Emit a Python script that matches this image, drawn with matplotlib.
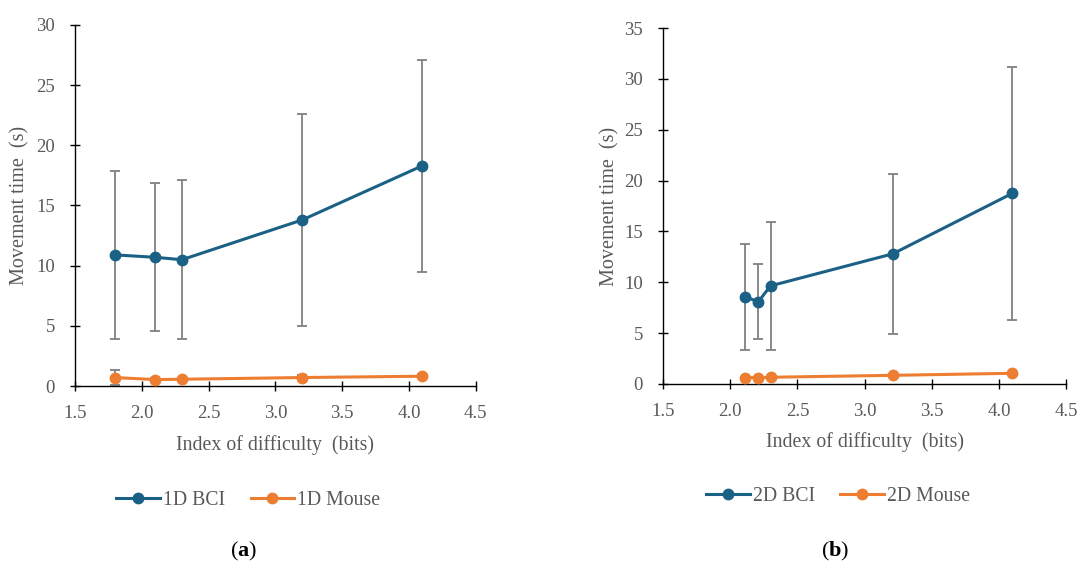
import numpy as np
import matplotlib.pyplot as plt

# ---- data (a) 1D ----
id_1d = [1.8, 2.1, 2.3, 3.2, 4.1]
bci_1d = [10.9, 10.7, 10.5, 13.8, 18.3]
bci_1d_hi = [17.9, 16.9, 17.1, 22.6, 27.05]
bci_1d_lo = [3.95, 4.6, 3.9, 5.0, 9.45]
mouse_1d = [0.72, 0.55, 0.58, 0.72, 0.83]
mouse_1d_hi = [1.33, 0.7, 0.72, 0.9, 1.0]
mouse_1d_lo = [0.1, 0.4, 0.45, 0.55, 0.66]

# ---- data (b) 2D ----
id_2d = [2.11, 2.21, 2.3, 3.21, 4.1]
bci_2d = [8.56, 8.1, 9.65, 12.8, 18.75]
bci_2d_hi = [13.75, 11.8, 15.9, 20.65, 31.15]
bci_2d_lo = [3.35, 4.45, 3.35, 4.95, 6.3]
mouse_2d = [0.62, 0.62, 0.66, 0.85, 1.05]

blue = '#1B6185'
orange = '#ED7D31'
grey_txt = '#595959'
plt.rcParams['font.family'] = ['Liberation Serif', 'DejaVu Serif']
plt.rcParams['mathtext.fontset'] = 'custom'
plt.rcParams['mathtext.rm'] = 'Liberation Serif'
plt.rcParams['mathtext.bf'] = 'Liberation Serif:bold'

fig = plt.figure(figsize=(10.79, 5.63), dpi=100)
ax1 = fig.add_axes([0.0695, 0.314, 0.3715, 0.642])
ax2 = fig.add_axes([0.6145, 0.318, 0.3735, 0.632])


def style(ax, ymax, ystep, ylab_x, xlab_y):
    ax.set_xlim(1.5, 4.5)
    ax.set_ylim(0, ymax)
    ax.set_xticks(np.arange(1.5, 4.51, 0.5))
    ax.set_xticklabels([f'{v:.1f}' for v in np.arange(1.5, 4.51, 0.5)])
    ax.set_yticks(np.arange(0, ymax + 0.1, ystep))
    for s in ['top', 'right']:
        ax.spines[s].set_visible(False)
    for s in ['left', 'bottom']:
        ax.spines[s].set_color('black')
        ax.spines[s].set_linewidth(1.0)
    ax.tick_params(direction='inout', length=7, width=1.0, colors='black',
                   labelcolor=grey_txt, labelsize=13.5)
    ax.tick_params(axis='x', pad=10)
    ax.tick_params(axis='y', pad=11)
    ax.set_xlabel('Index of difficulty  (bits)', color=grey_txt, fontsize=14.3)
    ax.set_ylabel('Movement time  (s)', color=grey_txt, fontsize=14.5)
    ax.xaxis.set_label_coords(0.5, xlab_y)
    ax.xaxis.label.set_va('center')
    ax.yaxis.set_label_coords(ylab_x, 0.5)
    ax.yaxis.label.set_va('center')


leg_kw = dict(loc='center', ncol=2, frameon=False, fontsize=14.2, labelcolor=grey_txt,
              handlelength=2.2, handletextpad=0.15, columnspacing=1.3)

# (a)
e = np.array([np.subtract(bci_1d, bci_1d_lo), np.subtract(bci_1d_hi, bci_1d)])
ax1.errorbar(id_1d, bci_1d, yerr=e, fmt='none', ecolor='#808080', elinewidth=1.3,
             capsize=3.3, capthick=1.3, zorder=2)
em = np.array([np.subtract(mouse_1d, mouse_1d_lo), np.subtract(mouse_1d_hi, mouse_1d)])
ax1.errorbar(id_1d, mouse_1d, yerr=em, fmt='none', ecolor='#808080', elinewidth=1.3,
             capsize=3.3, capthick=1.3, zorder=2)
ax1.plot(id_1d, bci_1d, '-o', color=blue, lw=2.2, ms=7.5, label='1D BCI', zorder=3)
ax1.plot(id_1d, mouse_1d, '-o', color=orange, lw=2.2, ms=7.5, label='1D Mouse', zorder=3)
style(ax1, 30, 5, -0.137, -0.163)
ax1.legend(bbox_to_anchor=(0.432, -0.316), **leg_kw)

# (b)
e2 = np.array([np.subtract(bci_2d, bci_2d_lo), np.subtract(bci_2d_hi, bci_2d)])
ax2.errorbar(id_2d, bci_2d, yerr=e2, fmt='none', ecolor='#808080', elinewidth=1.3,
             capsize=3.3, capthick=1.3, zorder=2)
ax2.plot(id_2d, bci_2d, '-o', color=blue, lw=2.2, ms=7.5, label='2D BCI', zorder=3)
ax2.plot(id_2d, mouse_2d, '-o', color=orange, lw=2.2, ms=7.5, label='2D Mouse', zorder=3)
style(ax2, 35, 5, -0.1315, -0.163)
ax2.legend(bbox_to_anchor=(0.434, -0.317), **leg_kw)

# captions (a), (b) with bold letter
for xc, letter in [(0.226, 'a'), (0.774, 'b')]:
    fig.text(xc, 0.021, r'($\mathbf{' + letter + r'}$)', fontsize=16, ha='center', va='center',
             color='black')

fig.savefig('out.png', dpi=100)
